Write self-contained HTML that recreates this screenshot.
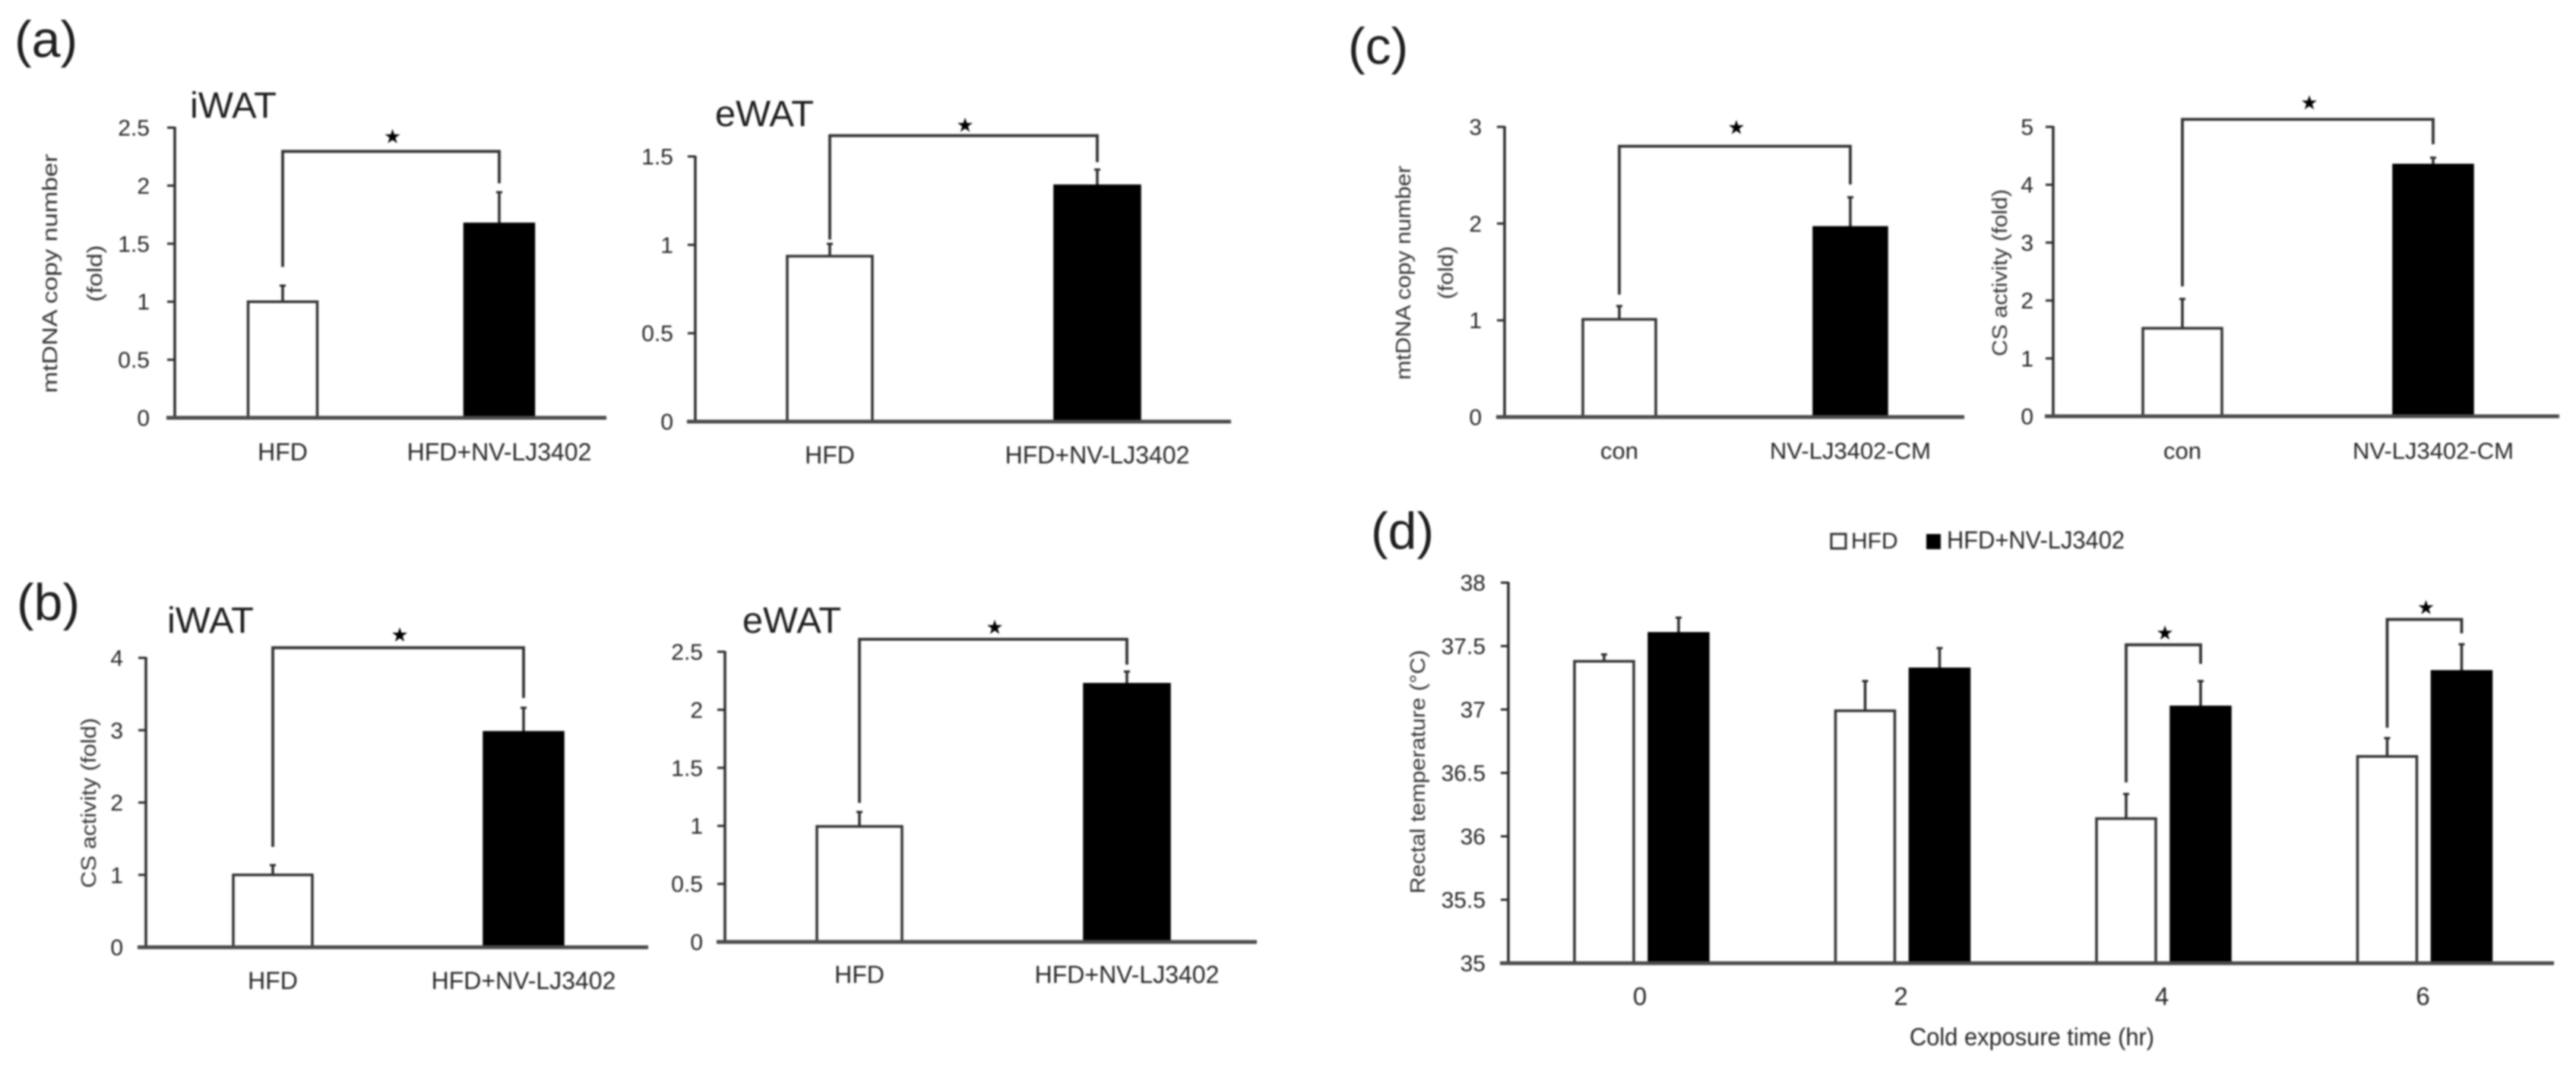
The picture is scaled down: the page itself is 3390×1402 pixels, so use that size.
<!DOCTYPE html>
<html lang="en">
<head>
<meta charset="utf-8">
<title>Mitochondrial and temperature bar charts</title>
<style>
  html, body { margin: 0; padding: 0; background: #fff; }
  body { width: 3390px; height: 1402px; overflow: hidden; }
  svg { display: block; filter: blur(1.1px); }
  text { font-family: "Liberation Sans", sans-serif; fill: #262626; }
  .panel-letter { font-size: 68px; fill: #1e1e1e; }
  .depot-title { font-size: 48px; fill: #1e1e1e; }
  .axis-title { font-size: 28px; fill: #333; text-anchor: middle; }
</style>
</head>
<body>
<svg id="figure" xmlns="http://www.w3.org/2000/svg" width="3390" height="1402" viewBox="0 0 3390 1402">
  <rect x="0" y="0" width="3390" height="1402" fill="#fff"/>

  <text class="panel-letter" x="19" y="75">(a)</text>
  <text class="panel-letter" x="22" y="816">(b)</text>
  <text class="panel-letter" x="1774" y="84">(c)</text>
  <text class="panel-letter" x="1804" y="722">(d)</text>

  <g id="panel-a-iwat">
    <text class="depot-title" x="250" y="155" textLength="114" lengthAdjust="spacingAndGlyphs">iWAT</text>
    <text class="axis-title" transform="translate(75,360) rotate(-90)" textLength="315" lengthAdjust="spacingAndGlyphs">mtDNA copy number</text>
    <text class="axis-title" transform="translate(134,360) rotate(-90)" textLength="75" lengthAdjust="spacingAndGlyphs">(fold)</text>
  </g>
  <g id="panel-a-ewat">
    <text class="depot-title" x="941" y="166" textLength="130" lengthAdjust="spacingAndGlyphs">eWAT</text>
  </g>
  <g id="panel-b-iwat">
    <text class="depot-title" x="220" y="833" textLength="114" lengthAdjust="spacingAndGlyphs">iWAT</text>
    <text class="axis-title" transform="translate(126,1057) rotate(-90)" textLength="224" lengthAdjust="spacingAndGlyphs">CS activity (fold)</text>
  </g>
  <g id="panel-b-ewat">
    <text class="depot-title" x="977" y="833" textLength="130" lengthAdjust="spacingAndGlyphs">eWAT</text>
  </g>
  <g id="panel-c-mtdna">
    <text class="axis-title" transform="translate(1856,359) rotate(-90)" textLength="282" lengthAdjust="spacingAndGlyphs">mtDNA copy number</text>
    <text class="axis-title" transform="translate(1912,359) rotate(-90)" textLength="70" lengthAdjust="spacingAndGlyphs">(fold)</text>
  </g>
  <g id="panel-c-cs">
    <text class="axis-title" transform="translate(2641,359) rotate(-90)" textLength="220" lengthAdjust="spacingAndGlyphs">CS activity (fold)</text>
  </g>
  <g id="panel-d">
    <text class="axis-title" transform="translate(1875,1016) rotate(-90)" textLength="321" lengthAdjust="spacingAndGlyphs">Rectal temperature (°C)</text>
    <text x="2674" y="1376" font-size="32" text-anchor="middle" textLength="322" lengthAdjust="spacingAndGlyphs">Cold exposure time (hr)</text>
    <g>
      <rect x="2410" y="703" width="19" height="19" fill="#fff" stroke="#333" stroke-width="3"/>
      <text x="2436" y="722" font-size="30">HFD</text>
      <rect x="2535" y="703" width="19" height="20" fill="#000"/>
      <text x="2562" y="722" font-size="32" textLength="234" lengthAdjust="spacingAndGlyphs">HFD+NV-LJ3402</text>
    </g>
  </g>
</svg>

<script>
// Panel (a) iWAT
const aIwatCategories = ['HFD', 'HFD+NV-LJ3402'];
const aIwatValues = [1.0, 1.67];
const aIwatErrorTops = [1.145, 1.95];
const aIwatTicks = ['0', '0.5', '1', '1.5', '2', '2.5'];
const aIwatBracket = [1.3, 2.02, 2.295];

// Panel (a) eWAT
const aEwatCategories = ['HFD', 'HFD+NV-LJ3402'];
const aEwatValues = [0.936, 1.334];
const aEwatErrorTops = [1.01, 1.43];
const aEwatTicks = ['0', '0.5', '1', '1.5'];
const aEwatBracket = [1.03, 1.468, 1.618];

// Panel (b) iWAT
const bIwatCategories = ['HFD', 'HFD+NV-LJ3402'];
const bIwatValues = [1.0, 2.97];
const bIwatErrorTops = [1.145, 3.32];
const bIwatTicks = ['0', '1', '2', '3', '4'];
const bIwatBracket = [1.387, 3.445, 4.14];

// Panel (b) eWAT
const bEwatCategories = ['HFD', 'HFD+NV-LJ3402'];
const bEwatValues = [0.995, 2.22];
const bEwatErrorTops = [1.126, 2.336];
const bEwatTicks = ['0', '0.5', '1', '1.5', '2', '2.5'];
const bEwatBracket = [1.198, 2.389, 2.608];

// Panel (c) mtDNA
const cMtdnaCategories = ['con', 'NV-LJ3402-CM'];
const cMtdnaValues = [1.01, 1.96];
const cMtdnaErrorTops = [1.155, 2.28];
const cMtdnaTicks = ['0', '1', '2', '3'];
const cMtdnaBracket = [1.265, 2.404, 2.8];

// Panel (c) CS activity
const cCsCategories = ['con', 'NV-LJ3402-CM'];
const cCsValues = [1.52, 4.34];
const cCsErrorTops = [2.04, 4.48];
const cCsTicks = ['0', '1', '2', '3', '4', '5'];
const cCsBracket = [2.244, 4.7, 5.13];

// Panel (d) rectal temperature
const dCategories = ['0', '2', '4', '6'];
const dHfdValues = [37.38, 36.99, 36.14, 36.63];
const dTreatedValues = [37.6, 37.32, 37.02, 37.3];
const dHfdErrorTops = [37.44, 37.23, 36.34, 36.78];
const dTreatedErrorTops = [37.73, 37.49, 37.23, 37.52];
const dTicks = ['35', '35.5', '36', '36.5', '37', '37.5', '38'];
const dBracketGroups = [2, 3];
const dBracketLeftEnds = [36.425, 36.856];
const dBracketRightEnds = [37.36, 37.6];
const dBracketTops = [37.51, 37.71];

const SVG_NS = 'http://www.w3.org/2000/svg';
const INK = '#2c2c2c';

function shape(parent, tag, attrs, text) {
  const el = document.createElementNS(SVG_NS, tag);
  for (const key in attrs) { el.setAttribute(key, attrs[key]); }
  if (text !== undefined) { el.textContent = text; }
  parent.appendChild(el);
  return el;
}

function yScale(frame) {
  return function (v) {
    return frame.y0 - (v - frame.min) * (frame.y0 - frame.yTop) / (frame.max - frame.min);
  };
}

function drawAxes(g, frame, ticks) {
  const y = yScale(frame);
  const yAxis = shape(g, 'line', { x1: frame.axisX, x2: frame.axisX, y1: frame.yTop - 1, y2: frame.y0, stroke: INK, 'stroke-width': 3.5 });
  
  
  ticks.forEach(function (label) {
    const v = parseFloat(label);
    const tick = shape(g, 'line', { x1: frame.axisX - 10, x2: frame.axisX, y1: y(v), y2: y(v), stroke: INK, 'stroke-width': 3 });
    
    
    const tickText = shape(g, 'text', { x: frame.tickRight, y: y(v) + 10.5, 'font-size': 30, 'text-anchor': 'end' }, label);
    
    
  });
}

function drawXAxis(g, frame) {
  const xAxis = shape(g, 'line', { x1: frame.axisX - 11, x2: frame.right, y1: frame.y0, y2: frame.y0, stroke: '#4a4a4a', 'stroke-width': 5 });
  
  
}

function drawBar(g, frame, cx, value, errorTop, solid) {
  const y = yScale(frame);
  const whisker = shape(g, 'line', { x1: cx, x2: cx, y1: y(errorTop), y2: y(value), stroke: INK, 'stroke-width': 3.5 });
  
  
  const cap = shape(g, 'line', { x1: cx - 4, x2: cx + 4, y1: y(errorTop) + 1, y2: y(errorTop) + 1, stroke: INK, 'stroke-width': 3 });
  
  
  const bar = shape(g, 'rect', {
    x: cx - frame.barW / 2, y: y(value), width: frame.barW, height: frame.y0 - y(value),
    fill: solid ? '#000' : '#fff', stroke: solid ? '#000' : '#333', 'stroke-width': 3.5
  });
  
  
}

function drawBracket(g, frame, xLeft, xRight, leftEnd, rightEnd, top) {
  const y = yScale(frame);
  const d = 'M' + xLeft + ' ' + y(leftEnd) + 'V' + y(top) + 'H' + xRight + 'V' + y(rightEnd);
  const bracket = shape(g, 'path', { d: d, fill: 'none', stroke: '#333', 'stroke-width': 3.8 });
  
  
  const star = shape(g, 'text', {
    x: (xLeft + xRight) / 2 + 2, y: y(top) - frame.starGap + 9, 'font-size': 26, 'text-anchor': 'middle',
    style: 'font-family:"DejaVu Sans",sans-serif;fill:#000'
  }, '★');
  
  
}

function drawPairChart(id, frame, categories, values, errorTops, ticks, bracket) {
  const g = document.getElementById(id);
  const x = function (i) { return frame.c0 + i * frame.step; };
  values.forEach(function (v, i) { drawBar(g, frame, x(i), v, errorTops[i], i === 1); });
  drawAxes(g, frame, ticks);
  drawXAxis(g, frame);
  drawBracket(g, frame, x(0), x(1), bracket[0], bracket[1], bracket[2]);
  categories.forEach(function (label, i) {
    const t = shape(g, 'text', { x: x(i), y: frame.labelY, 'font-size': frame.labelSize, 'text-anchor': 'middle' }, label);
    
    
  });
}

drawPairChart('panel-a-iwat',
  { axisX: 230, y0: 550, yTop: 168, min: 0, max: 2.5, tickRight: 197, right: 798, c0: 372, step: 285, barW: 91, labelY: 606, labelSize: 32, starGap: 20 },
  aIwatCategories, aIwatValues, aIwatErrorTops, aIwatTicks, aIwatBracket);
drawPairChart('panel-a-ewat',
  { axisX: 915, y0: 555, yTop: 206, min: 0, max: 1.5, tickRight: 886, right: 1620, c0: 1092, step: 352, barW: 112, labelY: 610, labelSize: 32, starGap: 14 },
  aEwatCategories, aEwatValues, aEwatErrorTops, aEwatTicks, aEwatBracket);
drawPairChart('panel-b-iwat',
  { axisX: 192, y0: 1247, yTop: 866, min: 0, max: 4, tickRight: 162, right: 853, c0: 359, step: 330, barW: 104, labelY: 1302, labelSize: 32, starGap: 17 },
  bIwatCategories, bIwatValues, bIwatErrorTops, bIwatTicks, bIwatBracket);
drawPairChart('panel-b-ewat',
  { axisX: 954, y0: 1240, yTop: 858, min: 0, max: 2.5, tickRight: 925, right: 1654, c0: 1131, step: 352, barW: 112, labelY: 1294, labelSize: 32, starGap: 16 },
  bEwatCategories, bEwatValues, bEwatErrorTops, bEwatTicks, bEwatBracket);
drawPairChart('panel-c-mtdna',
  { axisX: 1980, y0: 549, yTop: 167, min: 0, max: 3, tickRight: 1950, right: 2585, c0: 2131, step: 304, barW: 96, labelY: 604, labelSize: 31, starGap: 25 },
  cMtdnaCategories, cMtdnaValues, cMtdnaErrorTops, cMtdnaTicks, cMtdnaBracket);
drawPairChart('panel-c-cs',
  { axisX: 2702, y0: 548, yTop: 167, min: 0, max: 5, tickRight: 2676, right: 3368, c0: 2872, step: 330, barW: 104, labelY: 604, labelSize: 31, starGap: 22 },
  cCsCategories, cCsValues, cCsErrorTops, cCsTicks, cCsBracket);

(function drawTemperatureChart() {
  const g = document.getElementById('panel-d');
  const frame = { axisX: 1985, y0: 1268, yTop: 767, min: 35, max: 38, tickRight: 1955, right: 3361, barW: 78, starGap: 16 };
  const groupX = function (i) { return 2160 + i * 343.5; };
  const offset = 49;
  dCategories.forEach(function (label, i) {
    drawBar(g, frame, groupX(i) - offset, dHfdValues[i], dHfdErrorTops[i], false);
    drawBar(g, frame, groupX(i) + offset, dTreatedValues[i], dTreatedErrorTops[i], true);
    const t = shape(g, 'text', { x: groupX(i) - 2, y: 1323, 'font-size': 33, 'text-anchor': 'middle' }, label);
    
    
  });
  drawAxes(g, frame, dTicks);
  drawXAxis(g, frame);
  dBracketGroups.forEach(function (groupIndex, k) {
    drawBracket(g, frame, groupX(groupIndex) - offset, groupX(groupIndex) + offset, dBracketLeftEnds[k], dBracketRightEnds[k], dBracketTops[k]);
  });
})();
</script>
</body>
</html>
